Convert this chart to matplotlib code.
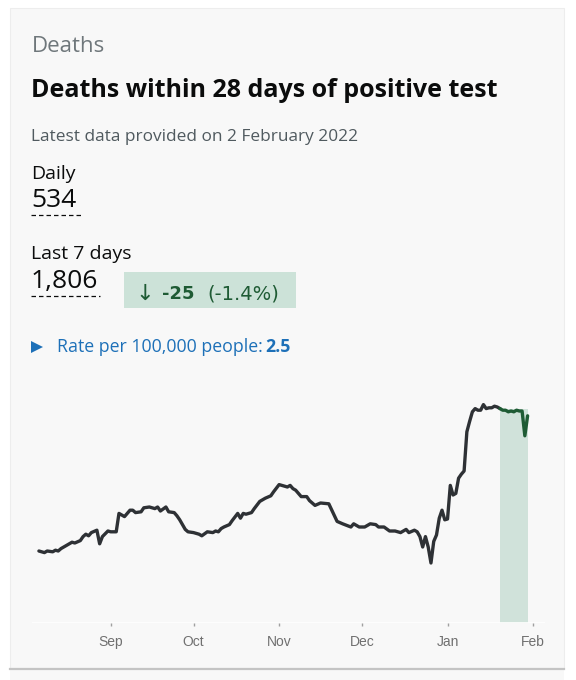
import matplotlib
matplotlib.use("Agg")
import matplotlib.pyplot as plt
from matplotlib.patches import Rectangle, Polygon
from matplotlib.lines import Line2D
import pandas as pd

W, H = 576, 680

# --- data (7-day average deaths) ---
DATES = [
    "2021-08-06", "2021-08-08", "2021-08-09", "2021-08-11", "2021-08-12", "2021-08-13",
    "2021-08-14", "2021-08-16", "2021-08-18", "2021-08-19", "2021-08-21", "2021-08-22",
    "2021-08-23", "2021-08-24", "2021-08-25", "2021-08-27", "2021-08-28", "2021-08-29",
    "2021-08-31", "2021-09-01", "2021-09-03", "2021-09-04", "2021-09-06", "2021-09-08",
    "2021-09-09", "2021-09-10", "2021-09-12", "2021-09-13", "2021-09-15", "2021-09-17",
    "2021-09-18", "2021-09-19", "2021-09-21", "2021-09-22", "2021-09-24", "2021-09-25",
    "2021-09-26", "2021-09-28", "2021-09-29", "2021-10-01", "2021-10-03", "2021-10-04",
    "2021-10-06", "2021-10-08", "2021-10-09", "2021-10-10", "2021-10-11", "2021-10-12",
    "2021-10-14", "2021-10-15", "2021-10-17", "2021-10-18", "2021-10-19", "2021-10-20",
    "2021-10-22", "2021-10-23", "2021-10-25", "2021-10-27", "2021-10-29", "2021-10-30",
    "2021-11-01", "2021-11-03", "2021-11-04", "2021-11-05", "2021-11-06", "2021-11-07",
    "2021-11-09", "2021-11-11", "2021-11-12", "2021-11-14", "2021-11-16", "2021-11-19",
    "2021-11-22", "2021-11-24", "2021-11-27", "2021-11-28", "2021-11-30", "2021-12-02",
    "2021-12-04", "2021-12-06", "2021-12-07", "2021-12-09", "2021-12-11", "2021-12-13",
    "2021-12-15", "2021-12-17", "2021-12-18", "2021-12-20", "2021-12-21", "2021-12-22",
    "2021-12-23", "2021-12-24", "2021-12-25", "2021-12-26", "2021-12-27", "2021-12-28",
    "2021-12-29", "2021-12-30", "2021-12-31", "2022-01-01", "2022-01-02", "2022-01-03",
    "2022-01-04", "2022-01-05", "2022-01-06", "2022-01-07", "2022-01-08", "2022-01-09",
    "2022-01-10", "2022-01-11", "2022-01-12", "2022-01-13", "2022-01-14", "2022-01-15",
    "2022-01-16", "2022-01-17", "2022-01-18", "2022-01-19", "2022-01-20", "2022-01-21",
    "2022-01-22", "2022-01-23", "2022-01-24", "2022-01-25", "2022-01-26", "2022-01-27",
    "2022-01-28", "2022-01-29", "2022-01-30",
]
DEATHS = [
    90, 88, 90, 89, 91, 90,
    93, 97, 101, 100, 103, 108,
    111, 109, 113, 116, 99, 108,
    115, 114, 114, 137, 133, 141,
    141, 138, 139, 144, 145, 143,
    145, 140, 145, 139, 138, 134,
    129, 117, 114, 113, 111, 109,
    114, 113, 115, 114, 118, 120,
    123, 128, 137, 131, 137, 136,
    138, 143, 152, 156, 159, 164,
    173, 171, 170, 172, 168, 166,
    158, 158, 153, 147, 150, 149,
    127, 124, 120, 124, 120, 120,
    124, 123, 120, 120, 115, 115,
    113, 117, 113, 116, 114, 108,
    95, 108, 95, 75, 102, 110,
    131, 141, 129, 130, 172, 160,
    162, 181, 186, 190, 239, 252,
    264, 268, 266, 266, 273, 268,
    269, 269, 271, 270, 268, 266,
    266, 264, 265, 264, 266, 265,
    265, 234, 259,
]
HIGHLIGHT = ("2022-01-20", "2022-01-30")
MONTH_TICKS = ["2021-09-01", "2021-10-01", "2021-11-01", "2021-12-01", "2022-01-01", "2022-02-01"]
MONTH_LABELS = ["Sep", "Oct", "Nov", "Dec", "Jan", "Feb"]

FONT = "Open Sans"
BLACK = "#0b0c0c"
GREY = "#6f777b"
GREEN = "#1e5b34"
BLUE = "#1d70b8"


def fx(px):
    return px / W


def fy(py):
    return 1 - py / H


fig = plt.figure(figsize=(W / 100, H / 100), dpi=100, facecolor="white")

# card background + bottom border (behind the axes)
fig.patches.append(Rectangle((fx(10), fy(668)), fx(564) - fx(10), fy(8) - fy(668),
                             transform=fig.transFigure, facecolor="#f8f8f8",
                             edgecolor="#ededed", lw=0.8, zorder=-2))
fig.patches.append(Rectangle((fx(10), fy(680)), fx(564) - fx(10), fy(670) - fy(680),
                             transform=fig.transFigure, facecolor="#f8f8f8",
                             edgecolor="none", zorder=-2))
fig.lines.append(Line2D([fx(10), fx(564)], [fy(668.5), fy(668.5)], transform=fig.transFigure,
                        color="#c4c4c4", lw=1.6, zorder=-1))

# --- header text ---
fig.text(fx(32), fy(52.3), "Deaths", fontsize=16, color=GREY, family=FONT, va="baseline")
fig.text(fx(31), fy(97.3), "Deaths within 28 days of positive test", fontsize=18,
         fontweight="bold", color=BLACK, family=FONT, va="baseline")
fig.text(fx(31), fy(140.7), "Latest data provided on 2 February 2022", fontsize=12.4,
         color="#505a5f", family=FONT, va="baseline")

fig.text(fx(31), fy(179.3), "Daily", fontsize=14, color=BLACK, family=FONT, va="baseline")
fig.text(fx(31), fy(207.3), "534", fontsize=19, color=BLACK, family=FONT, va="baseline")
fig.lines.append(Line2D([fx(31), fx(82)], [fy(215), fy(215)], transform=fig.transFigure,
                        color=BLACK, lw=0.9, dashes=(3.6, 2.4)))

fig.text(fx(31), fy(259.3), "Last 7 days", fontsize=14, color=BLACK, family=FONT, va="baseline")
fig.text(fx(31), fy(288.3), "1,806", fontsize=19, color=BLACK, family=FONT, va="baseline")
fig.lines.append(Line2D([fx(31), fx(100)], [fy(296), fy(296)], transform=fig.transFigure,
                        color=BLACK, lw=0.9, dashes=(3.6, 2.4)))

# change badge
fig.patches.append(Rectangle((fx(124), fy(308.3)), fx(296) - fx(124), fy(271.7) - fy(308.3),
                             transform=fig.transFigure, facecolor="#cce2d8", edgecolor="none"))
fig.text(fx(145), fy(299.5), "\u2193", fontsize=16, color=GREEN, family="DejaVu Sans",
         ha="center", va="baseline")
fig.text(fx(162), fy(299), "-25", fontsize=13, fontweight="bold", color=GREEN,
         family="DejaVu Sans", va="baseline")
fig.text(fx(207), fy(299), "(-1.4%)", fontsize=14, color=GREEN,
         family="DejaVu Sans", va="baseline")

# rate line
fig.patches.append(Polygon([(fx(31), fy(341)), (fx(31), fy(353)), (fx(43), fy(347))],
                           closed=True, transform=fig.transFigure, facecolor=BLUE,
                           edgecolor="none"))
fig.text(fx(57), fy(352), "Rate per 100,000 people:", fontsize=12.8, color=BLUE,
         family=FONT, va="baseline")
fig.text(fx(265), fy(352), "2.5", fontsize=12.8, fontweight="bold", color=BLUE,
         family=FONT, va="baseline")

# --- chart ---
s = pd.Series(DEATHS, index=pd.to_datetime(DATES))
hl_start, hl_end = pd.Timestamp(HIGHLIGHT[0]), pd.Timestamp(HIGHLIGHT[1])
recent = s[hl_start:]
older = s[:hl_start]

ax = fig.add_axes([fx(32), fy(623), fx(545) - fx(32), (623 - 385) / H])
ax.patch.set_visible(False)
ax.fill_between([hl_start, hl_end], 0, recent.max(), color="#d0e2da", lw=0, zorder=1)
ax.plot(older.index, older.values, color="#2e3135", lw=2.4, zorder=3,
        solid_joinstyle="round", solid_capstyle="round")
ax.plot(recent.index, recent.values, color=GREEN, lw=2.4, zorder=3,
        solid_joinstyle="round", solid_capstyle="round")
ax.axhline(0, color="white", lw=1.2, zorder=2)

ax.set_ylim(0, 297.5)
ax.set_xlim(pd.Timestamp("2021-08-01") + pd.Timedelta(days=2.5),
            pd.Timestamp("2021-08-01") + pd.Timedelta(days=188.3))
ax.set_yticks([])
ax.set_xticks(pd.to_datetime(MONTH_TICKS))
ax.set_xticklabels(MONTH_LABELS, fontsize=10, color="#707070", family="Liberation Sans")
ax.tick_params(axis="x", length=2.5, width=1, color="#a0a0a0", pad=6)
for sp in ax.spines.values():
    sp.set_visible(False)

fig.savefig("out.png", dpi=100, facecolor="white")
